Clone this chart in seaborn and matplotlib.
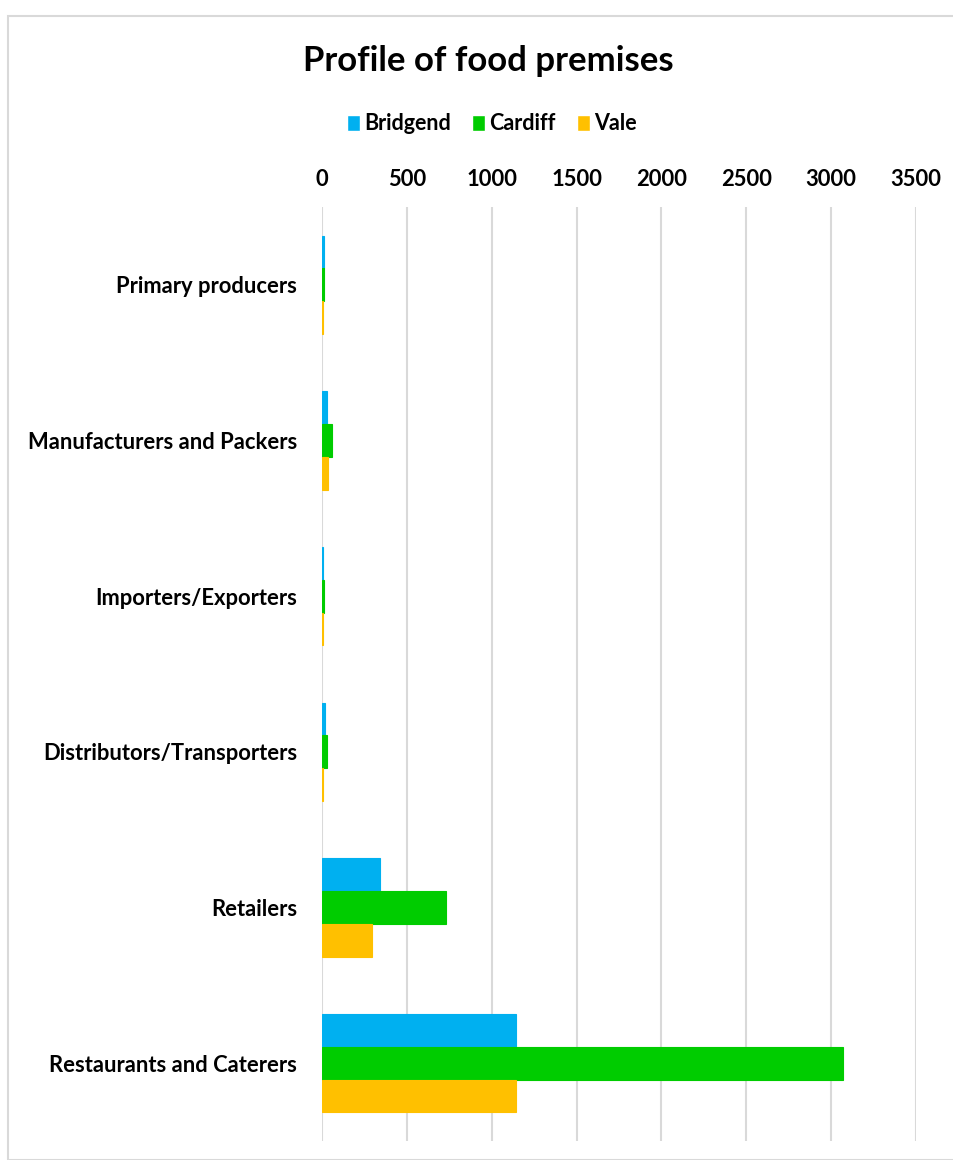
import pandas as pd
import matplotlib.pyplot as plt
import seaborn as sns
from matplotlib.patches import Patch, Rectangle

categories = ['Primary producers', 'Manufacturers and Packers', 'Importers/Exporters',
              'Distributors/Transporters', 'Retailers', 'Restaurants and Caterers']
areas = ['Bridgend', 'Cardiff', 'Vale']
bridgend = [12, 32, 6, 20, 341, 1141]
cardiff = [10, 60, 12, 32, 728, 3069]
vale = [6, 38, 5, 6, 292, 1146]
colors = ['#00B0F0', '#00CC00', '#FFC000']
xticks = [0, 500, 1000, 1500, 2000, 2500, 3000, 3500]

df = pd.DataFrame({
    'category': categories * 3,
    'area': [a for a in areas for _ in categories],
    'value': bridgend + cardiff + vale,
})

sns.set_style('white')
plt.rcParams['font.family'] = ['Lato', 'DejaVu Sans']
plt.rcParams['text.color'] = 'black'

W, H = 954, 1160
fig = plt.figure(figsize=(W / 100, H / 100), dpi=100)
fig.patches.append(Rectangle((8 / W, 0), 1, 1 - 16 / H, transform=fig.transFigure,
                             fill=False, edgecolor='#D9D9D9', lw=1.5))

ax = fig.add_axes([322 / W, 1 - 1141 / H, (916 - 322) / W, (1141 - 207) / H])
sns.barplot(data=df, x='value', y='category', hue='area', orient='h',
            palette=colors, width=0.63, saturation=1, legend=False, linewidth=0, ax=ax)
# thin same-colour outline so the tiny bars still show, as in the original
for p in ax.patches:
    p.set_edgecolor(p.get_facecolor())
    p.set_linewidth(0.8)

ax.set_xlim(0, 3500)
ax.set_xticks(xticks)
ax.xaxis.tick_top()
ax.grid(axis='x', color='#D9D9D9', lw=1.5)
ax.set_axisbelow(True)
for s in ax.spines.values():
    s.set_visible(False)
ax.tick_params(axis='both', length=0, labelcolor='black')
ax.tick_params(axis='x', pad=12)
ax.tick_params(axis='y', pad=18)
for lab in ax.get_xticklabels() + ax.get_yticklabels():
    lab.set_fontweight('bold')
    lab.set_fontsize(15.8)
ax.set_xlabel('')
ax.set_ylabel('')

fig.text(488 / W, 1 - 61 / H, 'Profile of food premises', ha='center', va='center',
         fontsize=25, fontweight='bold', color='black')

handles = [Patch(facecolor=c, label=a) for a, c in zip(areas, colors)]
leg = fig.legend(handles=handles, loc='center', bbox_to_anchor=(492 / W, 1 - 124 / H), ncol=3,
                 frameon=False, handlelength=0.6, handleheight=0.8, handletextpad=0.2,
                 columnspacing=1.0, prop={'weight': 'bold', 'size': 15.5})
for t in leg.get_texts():
    t.set_color('black')

fig.savefig('out.png', dpi=100)
